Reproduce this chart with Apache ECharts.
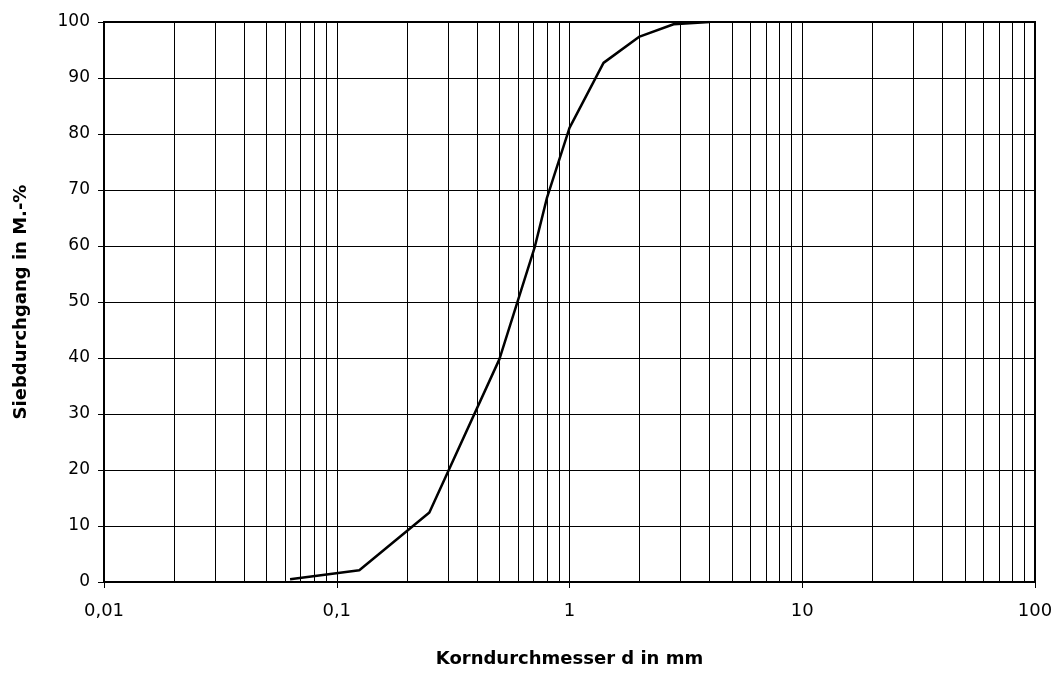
<!DOCTYPE html>
<html>
<head>
<meta charset="utf-8">
<script src="https://cdn.jsdelivr.net/npm/echarts@6/dist/echarts.min.js"></script>
<style>
html,body{margin:0;padding:0;background:#fff;}
#chart{width:1056px;height:673px;}
</style>
</head>
<body>
<div id="chart"></div>
<script>
// Sieve diameters (mm) and passing percentages
const diameters = [0.063, 0.125, 0.25, 0.5, 0.71, 0.8, 1, 1.4, 2, 2.8, 4];
const passing   = [0.5,   2.1,   12.4, 39.8, 59.9, 68.6, 81.1, 92.7, 97.4, 99.6, 100];
const xTickLabels = ['0,01', '0,1', '1', '10', '100'];
const minorGridValues = [];
[0.01, 0.1, 1, 10].forEach(function (d) {
  for (let k = 2; k <= 9; k++) minorGridValues.push(+(d * k).toPrecision(6));
});

const font = 'DejaVu Sans, Liberation Sans, Arial, sans-serif';
const chart = echarts.init(document.getElementById('chart'), null, {renderer: 'canvas'});
chart.setOption({
  animation: false,
  backgroundColor: '#ffffff',
  grid: {left: 104, right: 21, top: 22, bottom: 89, show: true, borderColor: '#000', borderWidth: 2, backgroundColor: 'transparent'},
  xAxis: {
    type: 'log', logBase: 10, min: 0.01, max: 100,
    name: 'Korndurchmesser d in mm', nameLocation: 'middle', nameGap: 68,
    nameTextStyle: {fontFamily: font, fontSize: 18, fontWeight: 'bold', color: '#000'},
    axisLine: {show: true, lineStyle: {color: '#000', width: 2}},
    axisTick: {show: true, length: 6, lineStyle: {color: '#000', width: 1}},
    axisLabel: {
      fontFamily: font, fontSize: 18, color: '#000', margin: 20,
      formatter: function (v) { return xTickLabels[Math.round(Math.log10(v)) + 2]; }
    },
    splitLine: {show: true, lineStyle: {color: '#000', width: 1}},
    minorTick: {show: false}
  },
  yAxis: {
    type: 'value', min: 0, max: 100, interval: 10,
    name: 'Siebdurchgang in M.-%', nameLocation: 'middle', nameGap: 74, nameRotate: 90,
    nameTextStyle: {fontFamily: font, fontSize: 18, fontWeight: 'bold', color: '#000'},
    axisLine: {show: true, lineStyle: {color: '#000', width: 2}},
    axisTick: {show: true, length: 6, lineStyle: {color: '#000', width: 1}},
    axisLabel: {fontFamily: font, fontSize: 17, color: '#000', margin: 14},
    splitLine: {show: true, lineStyle: {color: '#000', width: 1}}
  },
  series: [{
    type: 'line',
    data: diameters.map(function (d, i) { return [d, passing[i]]; }),
    showSymbol: false,
    lineStyle: {color: '#000', width: 2.5},
    z: 5,
    markLine: {
      silent: true, symbol: ['none', 'none'], label: {show: false},
      lineStyle: {color: '#000', width: 1, type: 'solid'},
      data: minorGridValues.map(function (v) { return {xAxis: v}; })
    }
  }]
});
</script>
</body>
</html>
